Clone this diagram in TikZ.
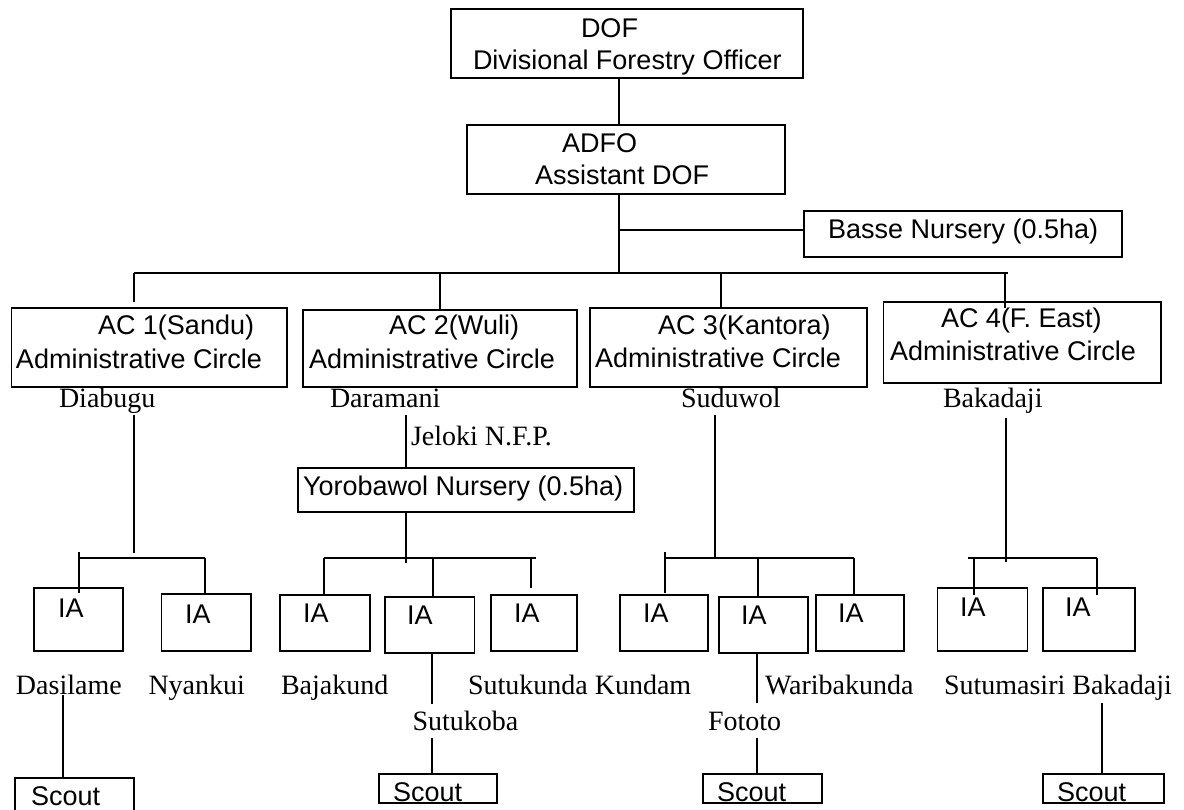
\documentclass[tikz,border=0pt]{standalone}
\usepackage{fontspec}
\setmainfont{Liberation Serif}
\newfontfamily\orgsans{Liberation Sans}
\begin{document}
\begin{tikzpicture}[x=1pt,y=-1pt,
  line width=1.7pt,
  bx/.style={draw, rectangle, inner sep=0pt, outer sep=0pt, anchor=north west},
  lab/.style={inner sep=0pt, outer sep=0pt, anchor=base west, font=\orgsans\fontsize{27}{31}\selectfont},
  loc/.style={inner sep=0pt, outer sep=0pt, anchor=base west, font=\fontsize{28}{32}\selectfont},
]
% page frame
\fill[white] (0,0) rectangle (1184,810);
\useasboundingbox (0,0) rectangle (1184,810);

% box from its top-left to bottom-right corner
\newcommand\orgbox[5]{\node[bx, minimum width={#4-#2}, minimum height={#5-#3}] (#1) at (#2,#3) {};}

% ---- boxes ----
\orgbox{dof}{451}{9}{803}{78}
\orgbox{adfo}{467}{125}{785}{194}
\orgbox{basse}{804}{211}{1122}{257}
\orgbox{ac1}{11.5}{308}{287}{387}
\orgbox{ac2}{303}{310}{577}{387}
\orgbox{ac3}{590}{308}{867}{387}
\orgbox{ac4}{883.5}{302}{1161}{383}
\orgbox{yoro}{298}{468}{634}{512}
\orgbox{ia1}{34}{588}{123}{651}
\orgbox{ia2}{161.5}{594}{251}{651}
\orgbox{ia3}{280}{595}{370}{651}
\orgbox{ia4}{385}{597}{474.5}{653}
\orgbox{ia5}{491}{595}{577}{651}
\orgbox{ia6}{620}{595}{708}{651}
\orgbox{ia7}{719}{597}{808}{653}
\orgbox{ia8}{816}{595}{904}{651}
\orgbox{ia9}{937.5}{588}{1027.6}{651}
\orgbox{ia10}{1043}{588}{1135}{651}
\orgbox{sc1}{15}{778}{134}{814}
\orgbox{sc2}{379}{774}{497}{803}
\orgbox{sc3}{703}{774}{822}{803}
\orgbox{sc4}{1043}{774}{1164}{803}

% ---- box texts ----
\node[lab] (tdof) at (581,37.7) {DOF};
\node[lab] (tdofb) at (473,69.3) {Divisional Forestry Officer};
\node[lab] (tadfo) at (562,152.7) {ADFO};
\node[lab] (tadfob) at (535,185) {Assistant DOF};
\node[lab] (tbasse) at (828,238.3) {Basse Nursery (0.5ha)};
\node[lab] (tac1) at (98,335) {AC 1(Sandu)};
\node[lab] (tac1b) at (16,368.3) {Administrative Circle};
\node[lab] (tac2) at (389,335) {AC 2(Wuli)};
\node[lab] (tac2b) at (309,368.3) {Administrative Circle};
\node[lab] (tac3) at (658,335) {AC 3(Kantora)};
\node[lab] (tac3b) at (595,367) {Administrative Circle};
\node[lab] (tac4) at (941,328) {AC 4(F. East)};
\node[lab] (tac4b) at (890,360.7) {Administrative Circle};
\node[lab] (tyoro) at (303,495) {Yorobawol Nursery (0.5ha)};
\node[lab] (tia1) at (58,617) {IA};
\node[lab] (tia2) at (185,623) {IA};
\node[lab] (tia3) at (303,622) {IA};
\node[lab] (tia4) at (407,624) {IA};
\node[lab] (tia5) at (514,622) {IA};
\node[lab] (tia6) at (643,622) {IA};
\node[lab] (tia7) at (741,624) {IA};
\node[lab] (tia8) at (838,622) {IA};
\node[lab] (tia9) at (960,616) {IA};
\node[lab] (tia10) at (1065,616) {IA};
\node[lab] (tsc1) at (31,805) {Scout};
\node[lab] (tsc2) at (393,801) {Scout};
\node[lab] (tsc3) at (717,801) {Scout};
\node[lab] (tsc4) at (1057,801) {Scout};

% ---- place names ----
\node[loc] (diabugu) at (59,407.7) {Diabugu};
\node[loc] (daramani) at (330,407.7) {Daramani};
\node[loc] (suduwol) at (681,407.7) {Suduwol};
\node[loc] (bakadaji) at (943,407.7) {Bakadaji};
\node[loc] (jeloki) at (411,445) {Jeloki N.F.P.};
\node[loc] (dasilame) at (16,694) {Dasilame};
\node[loc] (nyankui) at (148.5,694) {Nyankui};
\node[loc] (bajakund) at (281,694) {Bajakund};
\node[loc] (sutukunda) at (468,694) {Sutukunda Kundam};
\node[loc] (waribakunda) at (765,694) {Waribakunda};
\node[loc] (sutumasiri) at (944,694) {Sutumasiri Bakadaji};
\node[loc] (sutukoba) at (412.5,730) {Sutukoba};
\node[loc] (fototo) at (708,730) {Fototo};

% ---- connector columns and junctions ----
\coordinate (spine) at (619,0);
\coordinate (jbasse) at (619,230);
\coordinate (busL) at (134,273);
\coordinate (busR) at (1008,273);
\coordinate (d2) at (440,273);
\coordinate (d3) at (721,273);
\coordinate (d4) at (1005,273);
\coordinate (s1L) at (79,558);
\coordinate (s1M) at (134,558);
\coordinate (s1R) at (205,558);
\coordinate (s2L) at (324,558);
\coordinate (s2M) at (406,558);
\coordinate (s2C) at (433,558);
\coordinate (s2R) at (531,558);
\coordinate (s2E) at (536,558);
\coordinate (s3L) at (665,558);
\coordinate (s3M) at (715,558);
\coordinate (s3C) at (758,558);
\coordinate (s3R) at (854,558);
\coordinate (s4L) at (968,558);
\coordinate (s4D) at (974,558);
\coordinate (s4M) at (1006,558);
\coordinate (s4R) at (1097,558);
\coordinate (k1) at (63,0);
\coordinate (k2) at (432,0);
\coordinate (k3) at (757,0);
\coordinate (k4) at (1102,0);

% ---- top levels ----
\draw (dof.south -| spine) -- (adfo.north -| spine);
\draw (adfo.south -| spine) -- (spine |- busL);
\draw (jbasse) -- (jbasse -| basse.west);
\draw (busL) -- (busR);
\draw[shorten >=6pt] (busL) -- (ac1.north -| busL);
\draw (d2) -- (ac2.north -| d2);
\draw (d3) -- (ac3.north -| d3);
\draw[shorten >=-6pt] (d4) -- (ac4.north -| d4);

% ---- AC 1 ----
\draw[shorten <=1.5pt, shorten >=5pt] (diabugu.south -| s1M) -- (s1M);
\draw (s1L) -- (s1R);
\draw[shorten <=-6pt, shorten >=-5pt] (s1L) -- (ia1.north -| s1L);
\draw (s1R) -- (ia2.north -| s1R);

% ---- AC 2 ----
\draw[shorten <=7pt] (daramani.south -| s2M) -- (yoro.north -| s2M);
\draw[shorten >=-5pt] (yoro.south -| s2M) -- (s2M);
\draw (s2L) -- (s2E);
\draw (s2L) -- (ia3.north -| s2L);
\draw (s2C) -- (ia4.north -| s2C);
\draw[shorten >=7pt] (s2R) -- (ia5.north -| s2R);

% ---- AC 3 ----
\draw[shorten <=7pt] (suduwol.south -| s3M) -- (s3M);
\draw (s3L) -- (s3R);
\draw[shorten <=-6pt, shorten >=2pt] (s3L) -- (ia6.north -| s3L);
\draw (s3C) -- (ia7.north -| s3C);
\draw (s3R) -- (ia8.north -| s3R);

% ---- AC 4 ----
\draw[shorten <=4pt, shorten >=-4pt] (bakadaji.south -| s4M) -- (s4M);
\draw (s4L) -- (s4R);
\draw[shorten >=-7pt] (s4D) -- (ia9.north -| s4D);
\draw[shorten >=-7pt] (s4R) -- (ia10.north -| s4R);

% ---- scouts ----
\draw[shorten <=1pt] (dasilame.south -| k1) -- (sc1.north -| k1);
\draw[shorten >=6.6pt] (ia4.south -| k2) -- (sutukoba.north -| k2);
\draw[shorten <=8pt] (sutukoba.south -| k2) -- (sc2.north -| k2);
\draw[shorten >=8.6pt] (ia7.south -| k3) -- (fototo.north -| k3);
\draw[shorten <=8pt] (fototo.south -| k3) -- (sc3.north -| k3);
\draw[shorten <=3pt] (sutumasiri.south -| k4) -- (sc4.north -| k4);
\end{tikzpicture}
\end{document}
